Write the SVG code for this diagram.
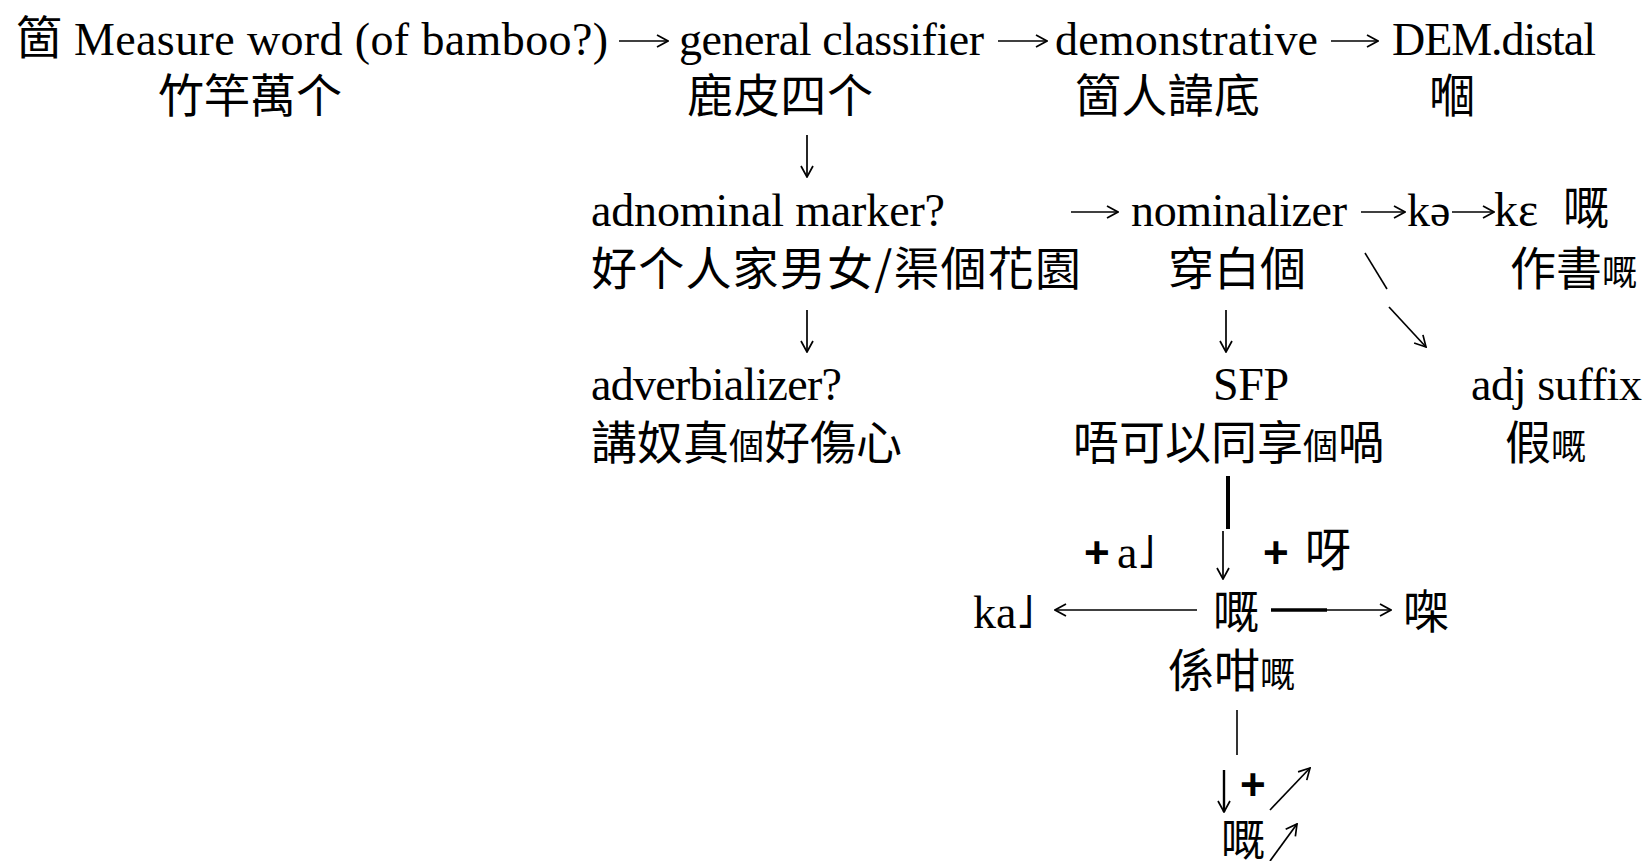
<svg xmlns="http://www.w3.org/2000/svg" width="1650" height="861" viewBox="0 0 1650 861">
<style>
.s{font-family:"Liberation Serif","Noto Sans CJK TC",serif;font-size:46px;fill:#000}
.c{font-family:"Noto Sans CJK TC","Noto Sans CJK SC",sans-serif;font-size:46px;fill:#000}
.sm{font-size:35px}
.b{font-family:"Liberation Sans",sans-serif;font-weight:bold;font-size:44px;fill:#000}
.ln{stroke:#000;stroke-width:1.6;fill:none}
.ar{stroke:#000;stroke-width:1.7;fill:none;marker-end:url(#ah)}
</style>
<defs>
<marker id="ah" viewBox="0 0 14 14" refX="13" refY="7" markerWidth="14" markerHeight="14" markerUnits="userSpaceOnUse" orient="auto"><path d="M2,1 L13,7 L2,13" fill="none" stroke="#000" stroke-width="1.7"/></marker>
</defs>
<g id="n-measure"><text class="c" x="16" y="54">箇</text><text class="s" x="74" y="55" textLength="534">Measure word (of  bamboo?)</text><text class="c" x="158" y="112">竹竿萬个</text></g>
<g id="n-general"><text class="s" x="679" y="55" textLength="305">general classifier</text><text class="c" x="687" y="112" textLength="186">鹿皮四个</text></g>
<g id="n-dem"><text class="s" x="1055" y="55" textLength="263">demonstrative</text><text class="c" x="1075" y="112" textLength="185">箇人諱底</text></g>
<g id="n-distal"><text class="s" x="1392" y="55" textLength="204">DEM.distal</text><text class="c" x="1429" y="112">嗰</text></g>
<g id="n-adnominal"><text class="s" x="591" y="226" textLength="354">adnominal marker?</text><text class="c" x="591" y="285" textLength="490">好个人家男女/渠個花園</text></g>
<g id="n-nominalizer"><text class="s" x="1131" y="226" textLength="216">nominalizer</text><text class="c" x="1168" y="285">穿白個</text></g>
<g id="n-ke"><text class="s" x="1407" y="226">kə</text><text class="s" x="1494" y="226" style="font-size:48px">kɛ</text><text class="c" x="1563" y="224">嘅</text><text class="c" x="1510" y="285">作書<tspan class="sm">嘅</tspan></text></g>
<g id="n-adverbializer"><text class="s" x="591" y="400" textLength="251">adverbializer?</text><text class="c" x="591" y="459">講奴真<tspan class="sm">個</tspan>好傷心</text></g>
<g id="n-sfp"><text class="s" x="1213" y="400" textLength="76">SFP</text><text class="c" x="1073" y="459">唔可以同享<tspan class="sm">個</tspan>喎</text></g>
<g id="n-adj"><text class="s" x="1471" y="400" textLength="171">adj suffix</text><text class="c" x="1505" y="459">假<tspan class="sm">嘅</tspan></text></g>
<g id="n-ge"><text class="c" x="1213" y="628">嘅</text><text class="c" x="1168" y="687">係咁<tspan class="sm">嘅</tspan></text></g>
<g id="n-ka"><text class="s" x="973" y="628">ka˩</text></g>
<g id="n-gaa"><text class="c" x="1403" y="628">㗎</text></g>
<g id="n-ge2"><text class="c" x="1221" y="856" style="font-size:44px">嘅</text></g>
<g id="labels"><text class="b" x="1084" y="568">+</text><text class="s" x="1117" y="568">a˩</text><text class="b" x="1263" y="568">+</text><text class="c" x="1305" y="566">呀</text><text class="b" x="1240" y="800">+</text></g>
<g id="connectors">
<path class="ar" d="M619,41 H668"/>
<path class="ar" d="M998,41 H1047"/>
<path class="ar" d="M1331,41 H1378"/>
<path class="ar" d="M807,135 V177"/>
<path class="ar" d="M1071,212 H1118"/>
<path class="ar" d="M1361,212 H1405"/>
<path class="ar" d="M1452,212 H1494"/>
<path class="ln" d="M1365,253 L1387,289"/>
<path class="ar" d="M807,310 V352"/>
<path class="ar" d="M1226,310 V352"/>
<path class="ar" d="M1389,307 L1426,347"/>
<path class="ln" d="M1228,476 V529" style="stroke-width:4"/>
<path class="ar" d="M1223,531 V579"/>
<path class="ar" d="M1197,610 H1055"/>
<path class="ln" d="M1271,610 H1327" style="stroke-width:3.5"/>
<path class="ar" d="M1327,610 H1391"/>
<path class="ln" d="M1237,710 V755"/>
<path class="ar" d="M1224,770 V812" style="stroke-width:2.4"/>
<path class="ar" d="M1270,810 L1310,768"/>
<path class="ar" d="M1270,861 L1297,824"/>
</g>
</svg>
